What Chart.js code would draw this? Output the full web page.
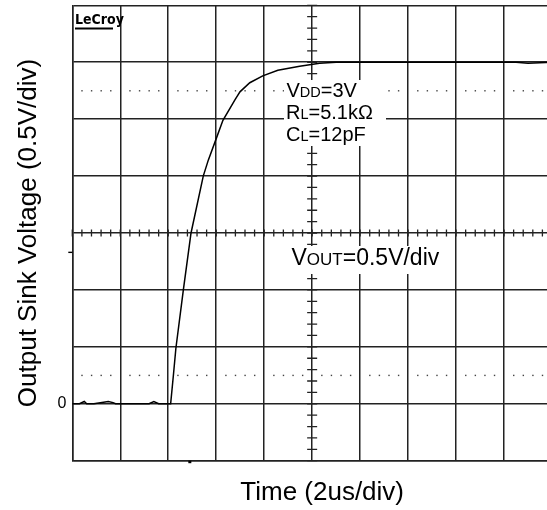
<!DOCTYPE html>
<html>
<head>
<meta charset="utf-8">
<script src="https://cdn.jsdelivr.net/npm/chart.js@4/dist/chart.umd.min.js"></script>
<style>
  html, body { margin: 0; padding: 0; background: #fff; overflow: hidden; width: 547px; height: 510px; }
  #wrap { position: absolute; left: 0; top: 0; width: 560px; height: 510px; }
</style>
</head>
<body>
<div id="wrap"><canvas id="scope" width="560" height="510"></canvas></div>
<script>
// Time axis in us (2us/div), voltage in V (0.5V/div)
const timeUs = [0, 0.3, 0.5, 0.6, 0.9, 1.5, 1.7, 1.8, 2.5, 3.2, 3.4, 3.6, 4.1,
                4.21, 4.32, 4.63, 4.95, 5.46, 5.67, 6.02, 6.28, 6.78, 6.99, 7.40,
                7.94, 8.57, 9.48, 10.31, 11.0, 12.5, 14.0, 16.0, 17.0, 18.5, 19.0, 20];
const voltageV = [0, 0, 0.02, 0, 0, 0.02, 0.01, 0, 0, 0, 0.02, 0, 0,
                  0.24, 0.49, 1.0, 1.5, 2.0, 2.14, 2.34, 2.49, 2.67, 2.74, 2.82,
                  2.88, 2.93, 2.965, 2.99, 3.0, 3.0, 3.0, 3.0, 3.0, 3.0, 2.99, 3.0];

const xTicks = { min: 0, max: 20, step: 2 };
const yTicks = { min: -0.5, max: 3.5, step: 0.5 };
const dottedLevels = [2.75, 0.25];

const gridColor = '#222';
const font = '"Liberation Sans", Arial, sans-serif';

// scope decorations: dotted sub-levels, centre crosshair ticks, labels
const scopePlugin = {
  id: 'scope',
  beforeDatasetsDraw(chart) {
    const { ctx, chartArea: a, scales: { x, y } } = chart;
    ctx.save();
    // dotted lines (one dot every 1/5 div)
    ctx.fillStyle = '#444';
    dottedLevels.forEach(v => {
      const py = y.getPixelForValue(v);
      for (let t = 0; t <= xTicks.max; t += 0.4) {
        if (Math.abs(t / 2 - Math.round(t / 2)) < 0.01) continue;
        ctx.fillRect(x.getPixelForValue(t) - 0.6, py - 0.6, 1.4, 1.4);
      }
    });
    // centre crosshair minor ticks
    ctx.strokeStyle = gridColor;
    ctx.lineWidth = 1.3;
    const cx = x.getPixelForValue(10), cy = y.getPixelForValue(1.5);
    ctx.beginPath();
    for (let t = 0; t <= xTicks.max; t += 0.4) {
      const px = x.getPixelForValue(t);
      ctx.moveTo(px, cy - 3.5); ctx.lineTo(px, cy + 3.5);
    }
    for (let v = yTicks.min; v <= yTicks.max + 0.001; v += 0.1) {
      const py = y.getPixelForValue(v);
      ctx.moveTo(cx - 5, py); ctx.lineTo(cx + 5, py);
    }
    ctx.stroke();
    // trigger markers
    ctx.fillStyle = '#000';
    ctx.fillRect(a.left - 4, y.getPixelForValue(1.33) - 0.7, 4, 1.4);
    ctx.fillRect(x.getPixelForValue(4.9) - 1.5, a.bottom, 3, 2.5);
    ctx.restore();
  },
  afterDatasetsDraw(chart) {
    const { ctx, chartArea: a } = chart;
    ctx.save();
    ctx.fillStyle = '#fff';
    ctx.fillRect(284, 80, 102, 66);
    ctx.fillRect(288, 246, 166, 28);

    function label(parts, px, py, bigSize, smallSize) {
      let cur = px;
      parts.forEach(([txt, isSmall]) => {
        ctx.font = (isSmall ? smallSize : bigSize) + 'px ' + font;
        ctx.fillText(txt, cur, py);
        cur += ctx.measureText(txt).width;
      });
    }
    ctx.fillStyle = '#000';
    ctx.textBaseline = 'alphabetic';
    label([['V'], ['DD', 1], ['=3V']], 286.5, 96.5, 20, 14.5);
    label([['R'], ['L', 1], ['=5.1k\u03A9']], 286, 118.5, 20, 14.5);
    label([['C'], ['L', 1], ['=12pF']], 286, 140.5, 20, 14.5);
    label([['V'], ['OUT', 1], ['=0.5V/div']], 291.5, 265, 23, 17);

    // LeCroy logo
    ctx.font = 'bold 14px "DejaVu Sans Condensed", "DejaVu Sans", sans-serif';
    ctx.fillText('LeCroy', 75, 24);
    ctx.fillRect(75, 27.5, 38, 2);

    // x axis title
    ctx.font = '26px ' + font;
    ctx.textAlign = 'center';
    ctx.fillText('Time (2us/div)', (a.left + a.right) / 2 + 10, 500);
    ctx.restore();
  }
};

new Chart(document.getElementById('scope'), {
  type: 'scatter',
  data: {
    datasets: [{
      data: timeUs.map((t, i) => ({ x: t, y: voltageV[i] })),
      showLine: true,
      borderColor: '#000',
      borderWidth: 1.5,
      pointRadius: 0,
      tension: 0
    }]
  },
  options: {
    responsive: false,
    animation: false,
    layout: { padding: { top: 5.3, right: 8, left: 0, bottom: 0 } },
    plugins: { legend: { display: false }, tooltip: { enabled: false } },
    scales: {
      x: {
        type: 'linear',
        min: xTicks.min, max: xTicks.max,
        afterFit: s => { s.height = 49.3; },
        ticks: { stepSize: xTicks.step, display: false },
        grid: { color: gridColor, lineWidth: 1.5, drawTicks: false },
        border: { color: gridColor, width: 1.5 }
      },
      y: {
        min: yTicks.min, max: yTicks.max,
        afterFit: s => { s.width = 72.3; s.paddingTop = 0; },
        ticks: {
          stepSize: yTicks.step, color: '#000', padding: 6,
          font: { family: font, size: 16, lineHeight: 0.5 },
          callback: v => (v === 0 ? '0' : '')
        },
        grid: { color: gridColor, lineWidth: 1.5, drawTicks: false },
        border: { color: gridColor, width: 1.5 },
        title: {
          display: true, text: 'Output Sink Voltage (0.5V/div)', color: '#000',
          font: { family: font, size: 26 },
          padding: { top: 13, bottom: 0 }
        }
      }
    }
  },
  plugins: [scopePlugin]
});
</script>
</body>
</html>
